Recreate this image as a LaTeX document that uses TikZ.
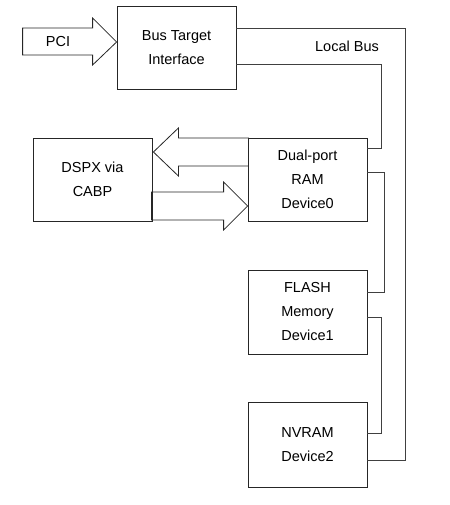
\documentclass[tikz,border=0pt]{standalone}
\usepackage{fontspec}
\setmainfont{Liberation Sans}
\usetikzlibrary{positioning}

\begin{document}
\begin{tikzpicture}[x=1pt,y=-1pt,
		block/.style={draw=black!85, line width=0.8pt, minimum width=119pt, inner sep=0pt, align=center, font=\fontsize{14.5}{24}\selectfont},
		busline/.style={draw=black!75, line width=0.8pt},
		fat/.style={draw=black!85, line width=0.8pt, line join=miter}]
		\useasboundingbox (0,0) rectangle (449,505);
		\node[block, minimum height=83pt] (bti) at (176.5,47.5) {Bus Target\\Interface};
		\node[block, minimum height=83pt] (dspx) at (92.5,179.5) {DSPX via\\CABP};
		\node[block, minimum height=83pt] (ram) at (307.5,179.5) {Dual-port\\RAM\\Device0};
		\node[block, minimum height=84pt] (flash) at (307.5,312) {FLASH\\Memory\\Device1};
		\node[block, minimum height=85pt] (nvram) at (307.5,444.5) {NVRAM\\Device2};
		\node[font=\fontsize{14.5}{16}\selectfont] (pci) at (58,42) {PCI};
		\node[font=\fontsize{14.5}{16}\selectfont] (lbus) at (347,46) {Local Bus};
		% wide arrows
		\draw[fat] ([yshift=5.5pt]bti.west) -- ++(-24,-24) -- ++(0,10) -- ++(-70,0) -- ++(0,27) -- ++(70,0) -- ++(0,10) -- cycle;
		\draw[fat] ([xshift=1pt,yshift=27.5pt]dspx.east) -- ++(25,-24) -- ++(0,10) -- ++(70,0) -- ++(0,28) -- ++(-70,0) -- ++(0,10) -- cycle;
		\draw[fat] ([yshift=-26.5pt]ram.west) -- ++(-24,-24) -- ++(0,10) -- ++(-72,0) -- ++(0,28) -- ++(72,0) -- ++(0,10) -- cycle;
		% local bus
		\draw[busline] ([yshift=19.5pt]bti.east) -- ++(169,0) |- ([yshift=-15.5pt]nvram.east);
		\draw[busline] ([yshift=-16.5pt]bti.east) -- ++(145,0) |- ([yshift=31.5pt]ram.east);
		\draw[busline] ([yshift=7.5pt]ram.east) -- ++(17,0) |- ([yshift=20pt]flash.east);
		\draw[busline] ([yshift=-5pt]flash.east) -- ++(14,0) |- ([yshift=11.5pt]nvram.east);
\end{tikzpicture}
\end{document}
